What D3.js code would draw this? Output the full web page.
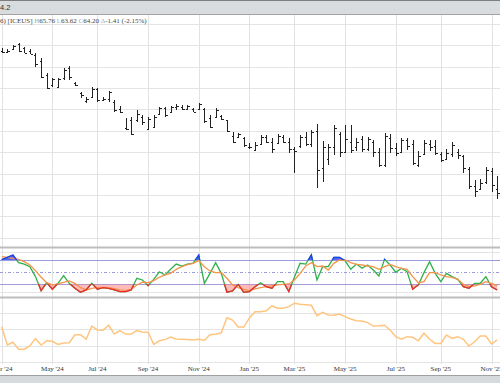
<!DOCTYPE html>
<html><head><meta charset="utf-8">
<script src="https://cdn.jsdelivr.net/npm/d3@7"></script>
<style>html,body{margin:0;padding:0;background:#fff;overflow:hidden}svg{display:block}</style>
</head><body><svg id="c" width="500" height="383"></svg>
<script>
// ---- data ----
const startWeek = "2024-03-04";   // first visible weekly bar (Monday)
const weekCount = 89;
const openP = [77.5,77.4,77.6,78.1,77.7,77.5,77.1,76.5,75.2,74.3,
 74.1,74.9,75.9,74.5,73.5,72.8,73.2,73.9,72.9,73.0,
 72.7,72.0,70.3,71.0,71.0,71.3,70.2,70.4,71.6,72.1,
 71.8,72.2,72.2,72.0,72.0,72.0,72.0,71.2,71.3,71.4,
 71.0,69.5,69.4,69.3,68.5,68.2,68.8,69.4,69.0,68.9,
 69.4,69.0,68.3,68.6,69.4,68.8,70.0,66.5,67.4,68.5,
 69.7,68.0,69.0,68.5,69.2,68.3,69.0,68.0,66.8,69.3,
 68.4,68.0,69.1,68.8,66.8,67.8,68.8,68.6,67.8,67.4,
 67.8,68.0,67.6,66.4,64.8,64.6,65.2,66.2,64.6];
const highP = [77.73,77.64,78.01,78.2,77.83,77.64,77.27,76.8,75.4,74.93,
 74.93,75.87,76.05,74.56,73.62,73.15,74.09,74.0,73.15,73.72,
 72.87,72.31,71.19,71.29,71.94,71.47,71.29,71.47,72.22,72.22,
 72.31,72.5,72.41,72.41,72.13,72.59,72.13,71.47,72.13,71.47,
 71.0,69.88,69.79,69.41,68.85,68.95,69.6,69.6,69.32,69.7,
 69.6,69.32,68.48,69.6,69.88,70.07,70.63,69.04,68.76,70.54,
 69.88,70.54,70.54,69.32,69.51,69.41,69.13,68.39,69.79,69.7,
 68.85,69.32,69.32,69.13,68.11,69.13,69.13,69.13,68.01,68.29,
 68.95,68.29,67.74,66.61,65.39,65.49,66.61,66.51,65.76];
const lowP = [77.27,77.36,77.55,77.36,77.27,77.17,75.96,74.93,73.9,74.09,
 74.0,74.74,74.74,74.18,73.06,72.6,73.06,72.69,72.78,72.69,
 71.75,71.66,70.07,69.6,70.82,70.54,70.07,70.26,71.47,71.29,
 71.75,71.94,71.94,71.94,71.75,71.94,70.73,70.26,71.29,71.0,
 69.88,68.85,69.32,68.48,68.3,68.11,68.67,68.85,67.92,68.85,
 68.85,67.92,66.05,68.39,68.57,68.48,64.65,65.21,66.8,67.74,
 67.55,67.92,67.92,68.11,68.01,68.11,67.55,66.61,66.61,67.92,
 67.64,68.01,68.2,66.8,66.61,67.74,68.11,67.74,67.08,67.27,
 67.55,67.36,66.05,64.56,63.81,64.46,65.02,64.28,63.62];
const closeP = [77.4,77.5,77.9,77.5,77.3,77.2,76.2,75.0,74.0,74.8,
 74.8,75.7,75.0,74.3,73.3,73.0,73.9,72.9,73.0,73.6,
 71.9,71.8,70.2,69.7,71.6,70.8,71.1,71.3,72.1,71.5,
 72.2,72.3,72.0,72.3,71.8,72.5,70.9,70.4,71.9,71.1,
 70.0,69.0,69.7,68.7,68.5,68.7,69.4,69.0,68.3,69.5,
 69.0,68.3,68.1,69.4,68.8,69.9,66.3,68.5,68.5,70.3,
 68.0,69.2,68.2,69.0,68.3,69.2,68.0,66.8,69.5,68.4,
 67.9,69.1,68.6,67.0,67.6,68.9,68.5,67.9,67.3,67.9,
 68.7,67.7,66.5,64.8,64.4,65.1,66.3,64.9,64.20];
const stochK = [81,86.6,92,73.4,70,63.6,39,4.4,24,7.7,
 22.5,41.4,22.5,10,0.3,6,22.5,7.7,11.8,10,
 6,2,2,6,34.8,30.7,16.7,32,51,43,
 57,70,65,70,72,92,22.5,47,73.4,47,
 0.3,3.6,20,0.3,2,14,24,14,10,26.6,
 26.6,2,38,71.8,70,92.3,30.7,63.6,63.6,86.6,
 86.6,78,57,70,59.5,67.7,55.3,40.6,81.6,67.7,
 49.6,59.5,51.2,7.7,18.4,48.8,75.9,47,26.6,47,
 39,32.3,14.3,10,22.5,22.5,39,14,6];
const stochD = [88.2,86.6,84,81.6,76,67.7,53.7,37.3,24,18.4,
 20.8,25,28.2,22.5,11.8,6,10,12.6,12.6,11.8,
 9.3,6,4.4,7.7,18.4,25,24,29,37.3,43,
 47,57,63.6,68.5,71.8,78.4,63.6,52.9,48.8,49.6,
 34.8,18.4,11.8,7.7,4.4,8.5,11.8,14.3,16,18.4,
 20,20.8,30.7,47,65.2,73.4,63.6,65.2,55.3,71.8,
 80,80,73.4,69.3,67.7,65.2,63.6,57,63.6,69.3,
 63.6,59.5,57,39,24,26.6,48.8,48.8,43,39,
 37.3,32.3,20,14.3,16,20,26.6,22.5,16];
const lowerSeries = [21.6,10.4,12.1,7.8,7.8,9.8,14.3,10.4,13.0,12.7,
 10.8,11.6,11.8,16.7,16.7,13.9,22.0,19.6,19.4,22.5,
 17.1,19.2,17.1,17.1,19.2,18.4,18.2,10.8,13.0,13.7,
 15.3,14.1,13.9,13.7,13.5,13.9,13.3,16.7,17.0,17.9,
 27.1,25.7,21.4,21.4,27.0,30.8,30.8,31.4,34.3,32.9,
 32.9,33.9,35.9,35.3,35.1,34.7,28.4,30.4,28.8,28.6,
 29.4,27.8,26.3,25.3,25.1,24.1,22.0,22.2,22.5,19.6,
 15.5,13.9,15.5,15.1,13.0,17.6,13.9,11.4,11.4,16.5,
 14.5,15.5,13.9,9.8,12.4,15.9,15.9,11.0,13.5];
const priceTicks = [60,62,64,66,68,70,72,74,76,78,80];
const stochLevels = [20,50,80];
const stochGrid = [0,100];
const lowerTicks = [0,10,20,30];
const titleText = "4.2";
const legendParts = [["6) [ICEUS] ","#444"],["H","#aaa"],["65.76 ","#444"],["L","#aaa"],["63.62 ","#444"],
  ["C","#aaa"],["64.20 ","#444"],["\u0394","#aaa"],["-1.41 (-2.15%)","#444"]];

// ---- layout ----
const W = 500, H = 383;
const svg = d3.select("#c");
const mainTop = 15, mainBot = 247, stTop = 248, stBot = 297, loTop = 299, loBot = 363;

const dates = d3.range(weekCount).map(i => d3.timeDay.offset(d3.timeParse("%Y-%m-%d")(startWeek), 7*i));
const x = d3.scaleLinear().domain([0, weekCount-1]).range([1.7, 1.7 + 5.63*(weekCount-1)]);
const yP = d3.scaleLinear().domain([60, 80]).range([237.8, 23.8]);
const yS = d3.scaleLinear().domain([20, 80]).range([284.3, 260]);
const yL = d3.scaleLinear().domain([0, 30]).range([362, 313]);

const monthIdx = d3.range(weekCount).filter(i => (i === 0 || dates[i].getMonth() !== dates[i-1].getMonth()) && dates[i].getMonth() % 2 === 0);
const fmt = d3.timeFormat("%b '%y");

svg.append("rect").attr("width", W).attr("height", H).attr("fill", "#fff");

// horizontal gridlines
const g = svg.append("g").attr("shape-rendering", "crispEdges");
g.selectAll(".hp").data(priceTicks).join("line")
  .attr("x1", 0).attr("x2", W).attr("y1", d => Math.round(yP(d))+0.5).attr("y2", d => Math.round(yP(d))+0.5)
  .attr("stroke", "#e4e4e4");
g.selectAll(".hs").data(stochGrid).join("line")
  .attr("x1", 0).attr("x2", W).attr("y1", d => Math.round(yS(d))+0.5).attr("y2", d => Math.round(yS(d))+0.5)
  .attr("stroke", "#e4e4e4");
g.selectAll(".hl").data(lowerTicks).join("line")
  .attr("x1", 0).attr("x2", W).attr("y1", d => Math.round(yL(d))+0.5).attr("y2", d => Math.round(yL(d))+0.5)
  .attr("stroke", "#e4e4e4");
// vertical gridlines
g.selectAll(".v").data(monthIdx).join("line")
  .attr("x1", d => Math.round(x(d))+0.5).attr("x2", d => Math.round(x(d))+0.5)
  .attr("y1", mainTop).attr("y2", loBot+1).attr("stroke", "#e2e2e2");

// stochastic level lines
g.selectAll(".lv").data(stochLevels).join("line")
  .attr("x1", 0).attr("x2", W).attr("y1", d => Math.round(yS(d))+0.5).attr("y2", d => Math.round(yS(d))+0.5)
  .attr("stroke", "#9a9ae0").attr("stroke-width", 1)
  .attr("stroke-dasharray", d => d === 50 ? "3,2,1,2" : null);

// panel separators
[mainBot, stBot].forEach(yy => {
  svg.append("line").attr("x1", 0).attr("x2", W).attr("y1", yy+0.5).attr("y2", yy+0.5)
    .attr("stroke", "#bdbdbd").attr("stroke-width", 2);
});

// OHLC bars
const bars = svg.append("g").attr("stroke", "#222").attr("shape-rendering", "crispEdges");
d3.range(weekCount).forEach(i => {
  const xx = Math.round(x(i)) + 0.5;
  bars.append("line").attr("x1", xx).attr("x2", xx).attr("y1", yP(highP[i])).attr("y2", yP(lowP[i]));
  bars.append("line").attr("x1", xx-2).attr("x2", xx).attr("y1", Math.round(yP(openP[i]))+0.5).attr("y2", Math.round(yP(openP[i]))+0.5);
  bars.append("line").attr("x1", xx).attr("x2", xx+2).attr("y1", Math.round(yP(closeP[i]))+0.5).attr("y2", Math.round(yP(closeP[i]))+0.5);
});

// stochastic
const defs = svg.append("defs");
defs.append("clipPath").attr("id", "above").append("rect")
  .attr("x", 0).attr("y", stTop).attr("width", W).attr("height", yS(80)-stTop);
defs.append("clipPath").attr("id", "below").append("rect")
  .attr("x", 0).attr("y", yS(20)).attr("width", W).attr("height", stBot-yS(20));
const idx = d3.range(weekCount);
const kLine = d3.line().x(i => x(i)).y(i => yS(stochK[i]));
const dLine = d3.line().x(i => x(i)).y(i => yS(stochD[i]));
svg.append("path").datum(idx).attr("clip-path", "url(#above)")
  .attr("d", d3.area().x(i => x(i)).y0(yS(80)).y1(i => yS(stochK[i])))
  .attr("fill", "#3b4ef0").attr("opacity", 0.85);
svg.append("path").datum(idx).attr("clip-path", "url(#below)")
  .attr("d", d3.area().x(i => x(i)).y0(yS(20)).y1(i => yS(stochK[i])))
  .attr("fill", "#ff8c8c").attr("opacity", 0.6);
svg.append("path").datum(idx).attr("d", kLine).attr("fill", "none").attr("stroke", "#2fb04a").attr("stroke-width", 1.3);
svg.append("path").datum(idx).attr("d", dLine).attr("fill", "none").attr("stroke", "#f5944a").attr("stroke-width", 1.3);
svg.append("path").datum(idx).attr("d", kLine).attr("clip-path", "url(#above)").attr("fill", "none").attr("stroke", "#1f3ef5").attr("stroke-width", 1.3);
svg.append("path").datum(idx).attr("d", kLine).attr("clip-path", "url(#below)").attr("fill", "none").attr("stroke", "#f02a2a").attr("stroke-width", 1.3);

// lower panel line
svg.append("path").datum(idx)
  .attr("d", d3.line().x(i => x(i)).y(i => yL(lowerSeries[i])))
  .attr("fill", "none").attr("stroke", "#ffc57e").attr("stroke-width", 1.5);

// month labels
svg.append("g").selectAll("text").data(monthIdx).join("text")
  .attr("x", d => x(d)).attr("y", 371).attr("text-anchor", "middle")
  .attr("font-family", "Liberation Serif, Times New Roman, serif").attr("font-size", 7).attr("fill", "#333")
  .text(d => fmt(dates[d]));

// header band
svg.append("rect").attr("x", 0).attr("y", 0).attr("width", W).attr("height", 14).attr("fill", "#d9dcdf");
svg.append("line").attr("x1", 0).attr("x2", W).attr("y1", 0.5).attr("y2", 0.5).attr("stroke", "#7d7d7d");
svg.append("line").attr("x1", 0).attr("x2", W).attr("y1", 14.5).attr("y2", 14.5).attr("stroke", "#a3a3a3");
svg.append("text").attr("x", 0).attr("y", 10).attr("font-family", "Liberation Sans, Arial, sans-serif")
  .attr("font-size", 7.5).attr("fill", "#333").text(titleText);

// legend text
const lt = svg.append("text").attr("x", 0).attr("y", 22.5)
  .attr("font-family", "Liberation Serif, Times New Roman, serif").attr("font-size", 7);
legendParts.forEach(p => lt.append("tspan").attr("fill", p[1]).text(p[0]));

// bottom band
svg.append("rect").attr("x", 0).attr("y", 375).attr("width", W).attr("height", 8).attr("fill", "#d7dadd");
svg.append("line").attr("x1", 0).attr("x2", W).attr("y1", 375.5).attr("y2", 375.5).attr("stroke", "#a0a0a0");
</script>
</body></html>
